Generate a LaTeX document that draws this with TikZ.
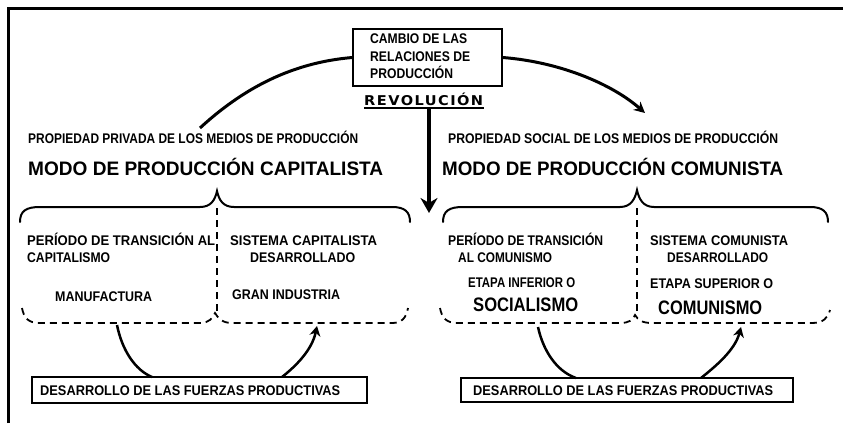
\documentclass[tikz,border=0pt]{standalone}
\usepackage{fontspec}
\setmainfont{Liberation Sans}
\newfontfamily\heavyfont{DejaVu Sans}[LetterSpace=10]
\usetikzlibrary{arrows.meta}
\newcommand\fitw[2]{\resizebox{#1pt}{\height}{#2}}
\begin{document}
\begin{tikzpicture}[x=1pt,y=-1pt,
  txt/.style={anchor=base west, inner sep=0pt, font=\bfseries\fontsize{14}{14}\selectfont},
  big/.style={anchor=base west, inner sep=0pt, font=\bfseries\fontsize{19.5}{19.5}\selectfont},
  boxed/.style={draw, line width=1.5pt, inner sep=0pt},
  heavy/.style={line width=3pt},
  bracel/.style={line width=2pt, line cap=round},
  dbrace/.style={line width=1.8pt, dash pattern=on 7pt off 5pt},
  curv/.style={line width=2.5pt},
  tip/.style={-{Stealth[length=11pt,width=11pt]}}
  ]
\useasboundingbox (0,0) rectangle (843,423);
\fill[white] (0,0) rectangle (843,423);
% frame
\draw[line width=3pt] (8,423) -- (8,8) -- (843,8);

% central box
\node[boxed, minimum width=149pt, minimum height=57pt] (cambio) at (427.5,57.5) {};
\node[txt] (c1) at (370,43) {\fitw{97}{CAMBIO DE LAS}};
\node[txt] (c2) at (370,61) {\fitw{100}{RELACIONES DE}};
\node[txt] (c3) at (370,78) {\fitw{83}{PRODUCCIÓN}};
\node[anchor=base west, inner sep=0pt, font=\heavyfont\bfseries\fontsize{13.5}{13.5}\selectfont] (revol) at (364,105) {\fitw{119}{REVOLUCIÓN}};
\draw[line width=1.6pt] (revol.base west) ++(0,3) -- ++(120,0);
\coordinate (vtop) at (429,108);
\coordinate (vbot) at (429,213);
\draw[line width=3.5pt, -{Stealth[length=15pt,width=17pt]}] (vtop) -- (vbot);

% top arcs
\coordinate (arcL) at (200,128);
\coordinate (arcR) at (645,113);
\draw[heavy] (arcL) .. controls (250,82) and (300,62) .. (cambio.west);
\draw[heavy, tip] (cambio.east) .. controls (560,62) and (612,84) .. (arcR);

% headings
\node[txt] (propL) at (28,143) {\fitw{330}{PROPIEDAD PRIVADA DE LOS MEDIOS DE PRODUCCIÓN}};
\node[big] (modoL) at (28,175) {\fitw{355}{MODO DE PRODUCCIÓN CAPITALISTA}};
\node[txt] (propR) at (448,143) {\fitw{330}{PROPIEDAD SOCIAL DE LOS MEDIOS DE PRODUCCIÓN}};
\node[big] (modoR) at (442,175) {\fitw{341}{MODO DE PRODUCCIÓN COMUNISTA}};

% left braces
\draw[bracel] (20,222) .. controls (20,211) and (26,207) .. (40,207) -- (200,207)
  .. controls (211,207) and (215,200) .. (217,191)
  .. controls (219,200) and (223,207) .. (234,207) -- (392,207)
  .. controls (405,207) and (410,212) .. (410,222);
\draw[dbrace] (217,208) -- (217,313);
\draw[dbrace] (22,308) .. controls (24,318) and (28,323) .. (40,323) -- (200,323)
  .. controls (209,323) and (213,318) .. (215,313)
  .. controls (218,318) and (222,323) .. (232,323) -- (392,323)
  .. controls (402,323) and (406,318) .. (408,308);

% right braces
\draw[bracel] (443,222) .. controls (443,211) and (449,207) .. (463,207) -- (620,207)
  .. controls (631,207) and (635,199) .. (637,190)
  .. controls (639,199) and (643,207) .. (654,207) -- (810,207)
  .. controls (823,207) and (828,212) .. (828,222);
\draw[dbrace] (637,208) -- (637,315);
\draw[dbrace] (440,308) .. controls (442,318) and (446,323) .. (458,323) -- (620,323)
  .. controls (629,323) and (633,320) .. (635,315)
  .. controls (638,320) and (642,323) .. (652,323) -- (812,323)
  .. controls (823,323) and (828,318) .. (830,310);

% left panel texts
\node[txt] (t1) at (27,245) {\fitw{188}{PERÍODO DE TRANSICIÓN AL}};
\node[txt] (t2) at (27,262) {\fitw{83}{CAPITALISMO}};
\node[txt] (t3) at (55,301) {\fitw{97}{MANUFACTURA}};
\node[txt] (t4) at (230,245) {\fitw{147}{SISTEMA CAPITALISTA}};
\node[txt] (t5) at (250,262) {\fitw{105}{DESARROLLADO}};
\node[txt] (t6) at (232,299) {\fitw{108}{GRAN INDUSTRIA}};

% right panel texts
\node[txt] (r1) at (448,245) {\fitw{155}{PERÍODO DE TRANSICIÓN}};
\node[txt] (r2) at (458,262) {\fitw{94}{AL COMUNISMO}};
\node[txt] (r3) at (468,287) {\fitw{107}{ETAPA INFERIOR O}};
\node[big] (r4) at (473,311) {\fitw{105}{SOCIALISMO}};
\node[txt] (r5) at (650,245) {\fitw{138}{SISTEMA COMUNISTA}};
\node[txt] (r6) at (667,262) {\fitw{101}{DESARROLLADO}};
\node[txt] (r7) at (650,288) {\fitw{123}{ETAPA SUPERIOR O}};
\node[big] (r8) at (658,314) {\fitw{104}{COMUNISMO}};

% bottom boxes
\node[boxed, minimum width=335pt, minimum height=26pt] (boxL) at (199.5,390) {};
\node[txt] (bl) at (40,395) {\fitw{300}{DESARROLLO DE LAS FUERZAS PRODUCTIVAS}};
\node[boxed, minimum width=332pt, minimum height=24pt] (boxR) at (627,390) {};
\node[txt] (br) at (473,395) {\fitw{300}{DESARROLLO DE LAS FUERZAS PRODUCTIVAS}};

% bottom connectors
\coordinate (la1) at (117,325);
\coordinate (la2) at (152,377);
\coordinate (lb1) at (282,377);
\coordinate (lb2) at (317,326);
\draw[curv] (la1) .. controls (122,350) and (135,370) .. (la2);
\draw[curv, -{Stealth[length=10pt,width=11pt]}] (lb1) .. controls (296,366) and (312,350) .. (lb2);
\coordinate (ra1) at (538,327);
\coordinate (ra2) at (576,378);
\coordinate (rb1) at (701,378);
\coordinate (rb2) at (741,327);
\draw[curv] (ra1) .. controls (543,350) and (556,371) .. (ra2);
\draw[curv, -{Stealth[length=10pt,width=11pt]}] (rb1) .. controls (716,366) and (735,350) .. (rb2);
\end{tikzpicture}
\end{document}
